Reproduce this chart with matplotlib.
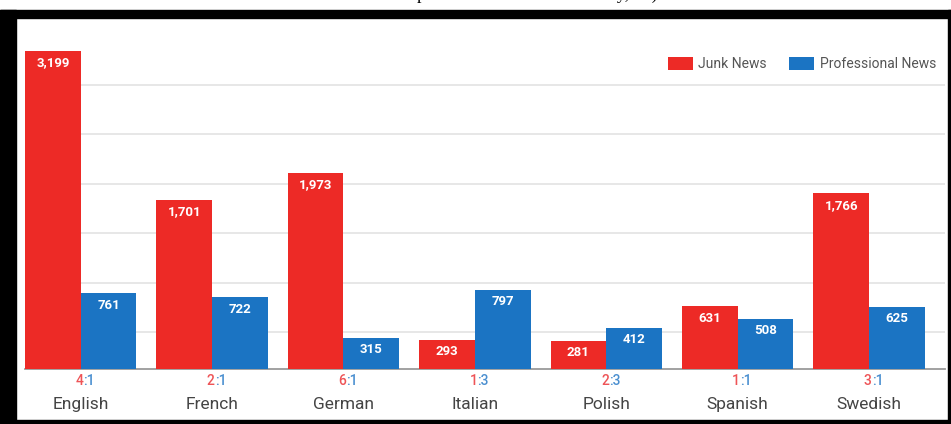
import matplotlib
matplotlib.use("Agg")
from matplotlib import pyplot as plt
from matplotlib.patches import Rectangle
import numpy as np

languages = ['English', 'French', 'German', 'Italian', 'Polish', 'Spanish', 'Swedish']
junk = [3199, 1701, 1973, 293, 281, 631, 1766]
professional = [761, 722, 315, 797, 412, 508, 625]
ratio_junk = ['4', '2', '6', '1', '2', '1', '3']
ratio_prof = ['1', '1', '1', '3', '3', '1', '1']
grid_values = [370, 865, 1365, 1865, 2365, 2860]

red = '#ED2A26'
blue = '#1B74C3'
red_light = '#EE5457'
blue_light = '#4A8FD0'

plt.rcParams['font.family'] = ['Roboto', 'DejaVu Sans']

W, H = 951, 424
fig = plt.figure(figsize=(W / 100, H / 100), dpi=100)
ax = fig.add_axes([25 / W, (H - 369) / H, 920 / W, 329 / H])

x = np.arange(len(languages))
bw = 0.424
b1 = ax.bar(x - bw / 2, junk, bw, color=red, label='Junk News', zorder=3)
b2 = ax.bar(x + bw / 2, professional, bw, color=blue, label='Professional News', zorder=3)

for bars, vals in [(b1, junk), (b2, professional)]:
    for rect, v in zip(bars, vals):
        ax.annotate(f'{v:,}', (rect.get_x() + rect.get_width() / 2, v),
                    xytext=(0, -8.5), textcoords='offset points',
                    ha='center', va='center', color='white',
                    fontsize=9.5, fontweight='bold', zorder=4)

ax.set_xlim(-bw, 6.578)
ax.set_ylim(0, 3310)
ax.set_yticks(grid_values)
ax.yaxis.grid(True, color='#E3E3E3', lw=1.2)
ax.set_axisbelow(True)
ax.tick_params(left=False, labelleft=False, bottom=False, labelbottom=False)
for s in ['top', 'right', 'left']:
    ax.spines[s].set_visible(False)
ax.spines['bottom'].set_color('#9A9A9A')
ax.spines['bottom'].set_linewidth(1.3)

tr = ax.get_xaxis_transform()
for i, lang in enumerate(languages):
    ax.text(i + 0.02, -0.0365, ratio_junk[i], transform=tr, ha='right', va='center',
            color=red_light, fontsize=10, fontweight='medium')
    ax.text(i + 0.02, -0.0365, ':' + ratio_prof[i], transform=tr, ha='left', va='center',
            color=blue_light, fontsize=10, fontweight='medium')
    ax.text(i, -0.108, lang, transform=tr, ha='center', va='center',
            color='#444444', fontsize=12.5)

leg = ax.legend(loc='upper right', bbox_to_anchor=(1.004, 0.985), ncol=2,
                frameon=False, fontsize=10, handlelength=1.8, handleheight=1.0,
                columnspacing=1.6, handletextpad=0.4)
for t in leg.get_texts():
    t.set_color('#555555')

# black frame around the chart
fig.patches.append(Rectangle((0, (H - 18) / H), 1, 8 / H, transform=fig.transFigure,
                             color='black', zorder=10))
fig.patches.append(Rectangle((0, 0), 16 / W, (H - 10) / H, transform=fig.transFigure,
                             color='black', zorder=10))
fig.patches.append(Rectangle((0, 1 / H), 1, 3 / H, transform=fig.transFigure,
                             color='black', zorder=10))
fig.patches.append(Rectangle((948 / W, 0), 3 / W, (H - 10) / H, transform=fig.transFigure,
                             color='black', zorder=10))

# caption cut off by the top of the image (only descenders visible)
cap_y = 1 + 1.5 / H
fig.text(417 / W, cap_y, 'Sources shared ', ha='right', va='baseline',
         family='Liberation Serif', fontsize=13, color='black')
fig.text(417 / W, cap_y, 'per domain and each country, all)', ha='left', va='baseline',
         family='Liberation Serif', fontsize=13, color='black')

fig.savefig('out.png', dpi=100)
